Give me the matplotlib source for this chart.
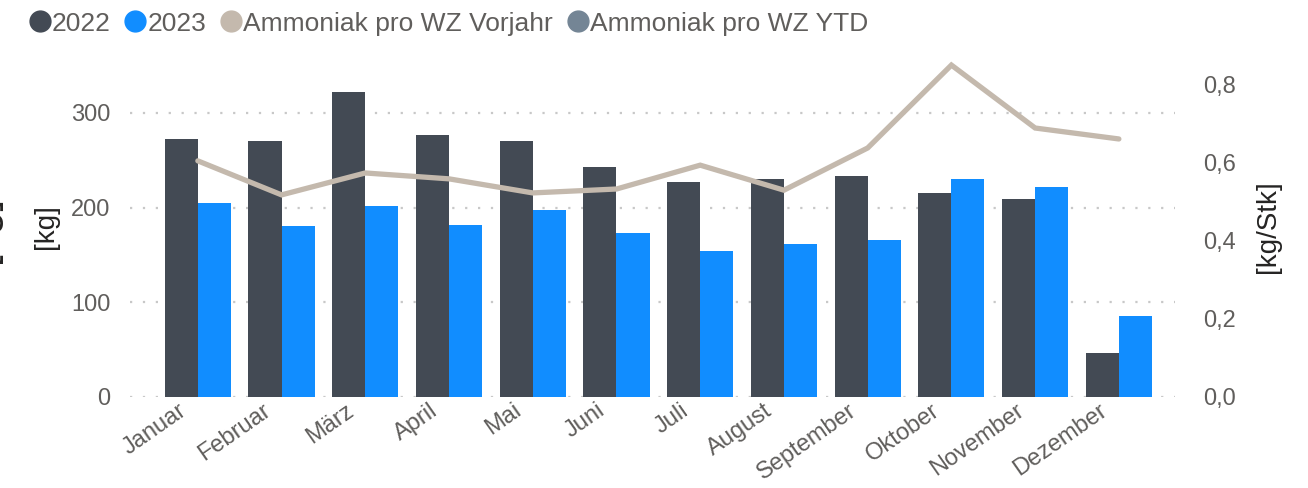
import numpy as np
import matplotlib.pyplot as plt
import matplotlib.transforms as mtrans
from matplotlib.lines import Line2D

plt.rcParams['font.family'] = ['Liberation Sans', 'DejaVu Sans']

# Monate
monate = ['Januar', 'Februar', 'März', 'April', 'Mai', 'Juni', 'Juli',
          'August', 'September', 'Oktober', 'November', 'Dezember']
# Ammoniak [kg]
werte_2022 = [272, 270, 322, 277, 270, 243, 227, 230, 233, 215, 209, 46]
werte_2023 = [205, 181, 202, 182, 197, 173, 154, 162, 166, 230, 222, 86]
# Ammoniak pro WZ [kg/Stk]
vorjahr = [0.604, 0.517, 0.573, 0.558, 0.522, 0.532, 0.593, 0.529, 0.637, 0.849, 0.688, 0.660]
ytd = []

c_2022 = '#434A54'
c_2023 = '#118DFF'
c_vj = '#C4B9AD'
c_ytd = '#748595'
c_txt = '#605E5C'

fig = plt.figure(figsize=(13.08, 4.88), dpi=100)
ax = fig.add_axes([0.0994, 0.1865, 0.7989, 0.6985])
ax2 = ax.twinx()

x = np.arange(len(monate))
w = 0.395
ax.set_axisbelow(True)
ax.yaxis.grid(True, color='#C8C8C8', linestyle=(0, (1, 4.8)), linewidth=1.6)
ax.bar(x - w / 2, werte_2022, w, color=c_2022, zorder=2)
ax.bar(x + w / 2, werte_2023, w, color=c_2023, zorder=2)

ax2.plot(x, vorjahr, color=c_vj, linewidth=3.8, solid_capstyle='round', solid_joinstyle='miter')
ax2.plot(x[:len(ytd)], ytd, color=c_ytd, linewidth=3.8)

ax.set_xlim(-0.81, 11.67)
ax.set_ylim(0, 360)
ax2.set_ylim(0, 360 * 0.947 / 391)
ax.set_yticks([0, 100, 200, 300])
ax2.set_yticks([0, 0.2, 0.4, 0.6, 0.8])
ax2.set_yticklabels(['0,0', '0,2', '0,4', '0,6', '0,8'])

for a in (ax, ax2):
    for s in a.spines.values():
        s.set_visible(False)
ax.tick_params(axis='y', length=0, pad=14, labelsize=17, labelcolor=c_txt)
ax2.tick_params(axis='y', length=0, pad=20, labelsize=17, labelcolor=c_txt)
ax.tick_params(axis='x', length=0, pad=4)
ax.set_xticks(x)
ax.set_xticklabels(monate, rotation=35, ha='right', va='top', rotation_mode='anchor',
                   fontsize=17, color=c_txt)
versatz = mtrans.ScaledTranslation(-20 / 100, 3 / 100, fig.dpi_scale_trans)
for lbl in ax.get_xticklabels():
    lbl.set_transform(lbl.get_transform() + versatz)

ax.set_ylabel('[kg]', fontsize=20, color='#252423', labelpad=9)
ax2.set_ylabel('[kg/Stk]', fontsize=20, color='#252423', labelpad=14)
# abgeschnittene Beschriftung am linken Rand
fig.text(-0.0145, 0.53, '[kg]', rotation=90, fontsize=30, color='#252423', ha='center', va='center')

handles = [Line2D([], [], marker='o', linestyle='none', markersize=15, color=c)
           for c in (c_2022, c_2023, c_vj, c_ytd)]
fig.legend(handles, ['2022', '2023', 'Ammoniak pro WZ Vorjahr', 'Ammoniak pro WZ YTD'],
           loc='upper left', bbox_to_anchor=(0.0, 1.025), ncol=4, frameon=False,
           fontsize=19, labelcolor=c_txt, handletextpad=-0.15, columnspacing=0.35,
           handlelength=1.2)

fig.savefig('out.png', dpi=100)
